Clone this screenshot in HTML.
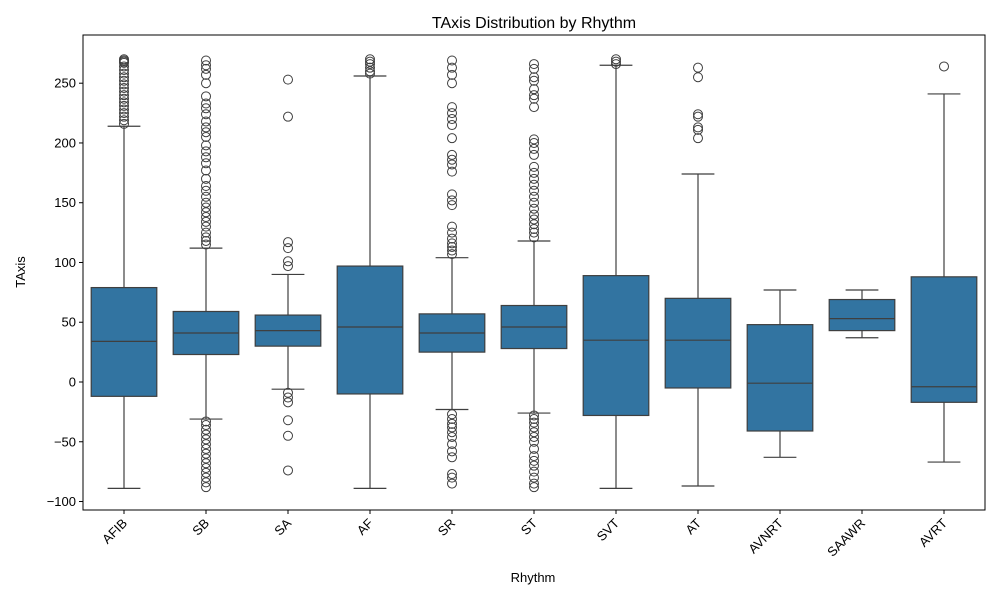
<!DOCTYPE html>
<html><head><meta charset="utf-8"><style>
body{margin:0;background:#fff;}
svg text{font-family:"Liberation Sans","DejaVu Sans",sans-serif;fill:#000;}
</style></head><body>
<svg id="chart" width="1000" height="600">
<rect width="1000" height="600" fill="#fff"/>
<text x="534" y="28" font-size="16" text-anchor="middle">TAxis Distribution by Rhythm</text>
<text x="533" y="582" font-size="13" text-anchor="middle">Rhythm</text>
<text transform="translate(25,272) rotate(-90)" font-size="13" text-anchor="middle">TAxis</text>
<g id="plot"></g>
<rect x="83" y="35" width="902" height="475" fill="none" stroke="#000" stroke-width="1"/>
</svg>
<script>
const categories=["AFIB","SB","SA","AF","SR","ST","SVT","AT","AVNRT","SAAWR","AVRT"];
const whiskLow=[-89,-31,-6,-89,-23,-26,-89,-87,-63,37,-67];
const q1=[-12,23,30,-10,25,28,-28,-5,-41,43,-17];
const medians=[34,41,43,46,41,46,35,35,-1,53,-4];
const q3=[79,59,56,97,57,64,89,70,48,69,88];
const whiskHigh=[214,112,90,256,104,118,265,174,77,77,241];
const outliers=[
[216,219,222,225,228,231,234,237,240,243,246,249,252,255,258,261,264,267,270,269,268],
[115,118,121,125,130,134,138,142,146,150,155,160,164,170,177,183,188,193,198,205,209,213,218,224,229,233,239,250,257,262,265,269,-33,-36,-40,-44,-48,-52,-56,-60,-64,-68,-72,-76,-80,-84,-88],
[253,222,117,112,101,97,-9,-13,-17,-32,-45,-74],
[258,260,263,266,268,270],
[107,110,113,116,120,125,130,148,152,157,176,182,186,190,204,215,220,225,230,250,257,263,269,-27,-31,-35,-38,-42,-46,-52,-58,-63,-77,-80,-85],
[121,125,128,132,136,140,145,150,155,160,165,170,175,180,190,195,200,203,230,237,240,245,252,255,262,266,-28,-31,-34,-38,-42,-46,-50,-56,-62,-66,-70,-75,-80,-85,-88],
[266,268,270],
[204,211,213,222,224,255,263],
[],
[],
[264]
];
const yTicks=[-100,-50,0,50,100,150,200,250];
const X0=83,X1=985,Y0=510,Y1=35;
const vMin=-107.2,vMax=289.9;
function y(v){return 382-v*1.1952;}
function x(i){return X0+(i+0.5)*(X1-X0)/categories.length;}
const ns="http://www.w3.org/2000/svg";
const g=document.getElementById('plot');
function mk(t,a){const e=document.createElementNS(ns,t);for(const k in a)e.setAttribute(k,a[k]);g.appendChild(e);return e;}
const bw=0.8*(X1-X0)/categories.length;
const lc="#3f3f3f";
yTicks.forEach(t=>{
 const yy=y(t);
 const l=mk('line',{x1:X0-4,x2:X0,y1:yy,y2:yy,stroke:'#000'});
 
 
 const tx=mk('text',{x:X0-7,y:yy+4.5,'font-size':13,'text-anchor':'end'});
 tx.textContent=t<0?'\u2212'+(-t):t;
 
 
});
categories.forEach((c,i)=>{
 const cx=x(i);
 const l=mk('line',{x1:cx,x2:cx,y1:Y0,y2:Y0+4,stroke:'#000'});
 
 
 const tx=mk('text',{x:0,y:0,'font-size':13,'text-anchor':'end',transform:`translate(${cx+4},${Y0+14}) rotate(-45)`});
 tx.textContent=c;
 
 
 const w1=mk('line',{x1:cx,x2:cx,y1:y(q1[i]),y2:y(whiskLow[i]),stroke:lc,'stroke-width':1.2});
 
 
 const w2=mk('line',{x1:cx,x2:cx,y1:y(q3[i]),y2:y(whiskHigh[i]),stroke:lc,'stroke-width':1.2});
 
 
 [whiskLow[i],whiskHigh[i]].forEach(v=>{
  const cap=mk('line',{x1:cx-bw/4,x2:cx+bw/4,y1:y(v),y2:y(v),stroke:lc,'stroke-width':1.2});
  
  
 });
 const b=mk('rect',{x:cx-bw/2,y:y(q3[i]),width:bw,height:y(q1[i])-y(q3[i]),fill:'#3274a1',stroke:lc,'stroke-width':1.2});
 
 
 const m=mk('line',{x1:cx-bw/2,x2:cx+bw/2,y1:y(medians[i]),y2:y(medians[i]),stroke:lc,'stroke-width':1.2});
 
 
 outliers[i].forEach(v=>{
  const o=mk('circle',{cx:cx,cy:y(v),r:4.5,fill:'none',stroke:lc,'stroke-width':1});
  
  
 });
});
</script>
</body></html>
